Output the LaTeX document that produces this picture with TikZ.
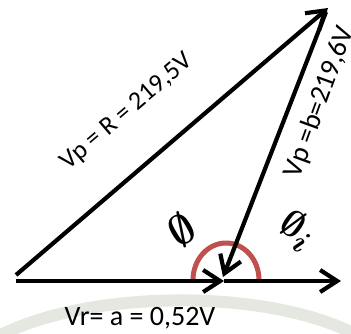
\documentclass[tikz,border=0pt]{standalone}
\usepackage{fontspec}
\setmainfont{Carlito}
\usetikzlibrary{arrows.meta}
\definecolor{arcred}{RGB}{192,80,77}
\definecolor{wmark}{RGB}{228,232,225}
\begin{document}
\begin{tikzpicture}[x=1pt,y=-1pt,
  vec/.style={line width=4.2pt,-{Straight Barb[length=17pt,width=22pt,line width=4.2pt]}},
  lbl/.style={inner sep=0pt,font=\fontsize{28}{30}\selectfont},
  ang/.style={inner sep=0pt,font=\fontsize{28}{30}\selectfont}]
\useasboundingbox (0,0) rectangle (351,333);
\clip (0,0) rectangle (351,333);
% faint watermark below the picture
\fill[white] (0,0) rectangle (351,333);
\draw[wmark,line width=12pt] (-20,348) .. controls (60,288) and (280,283) .. (370,343);
\fill[white] (0,0) rectangle (351,288);
% points
\coordinate (O) at (16,281);
\coordinate (S) at (16,275);
\coordinate (A) at (224,281);
\coordinate (E) at (341,281);
\coordinate (T) at (328,8);
\coordinate (Tb) at (326,12);
\coordinate (Ab) at (223,277);
% red angle arc
\draw[arcred,line width=5pt,line cap=round] (193,280) arc[start angle=180,end angle=360,x radius=33,y radius=37];
% vectors
\draw[vec] (O) -- (A);
\draw[vec] (A) -- (E);
\draw[vec] (S) -- (T);
\draw[vec] (Tb) -- (Ab);
% labels
\node[lbl,rotate=40.5,font=\fontsize{26}{28}\selectfont] (vpr) at (127,112) {Vp = R = 219,5V};
\node[lbl,rotate=70] (vpb) at (320,102) {Vp =b=219,6V};
\node[lbl] (vr) at (140,318) {Vr= a = 0,52V};
\node[ang,rotate=30] (phi) at (182,230) {\scalebox{1.7}{\boldmath$\emptyset$}};
\node[ang,rotate=-35] (phii) at (297,230) {\scalebox{1.5}{\boldmath$\emptyset_i$}};
\end{tikzpicture}
\end{document}
